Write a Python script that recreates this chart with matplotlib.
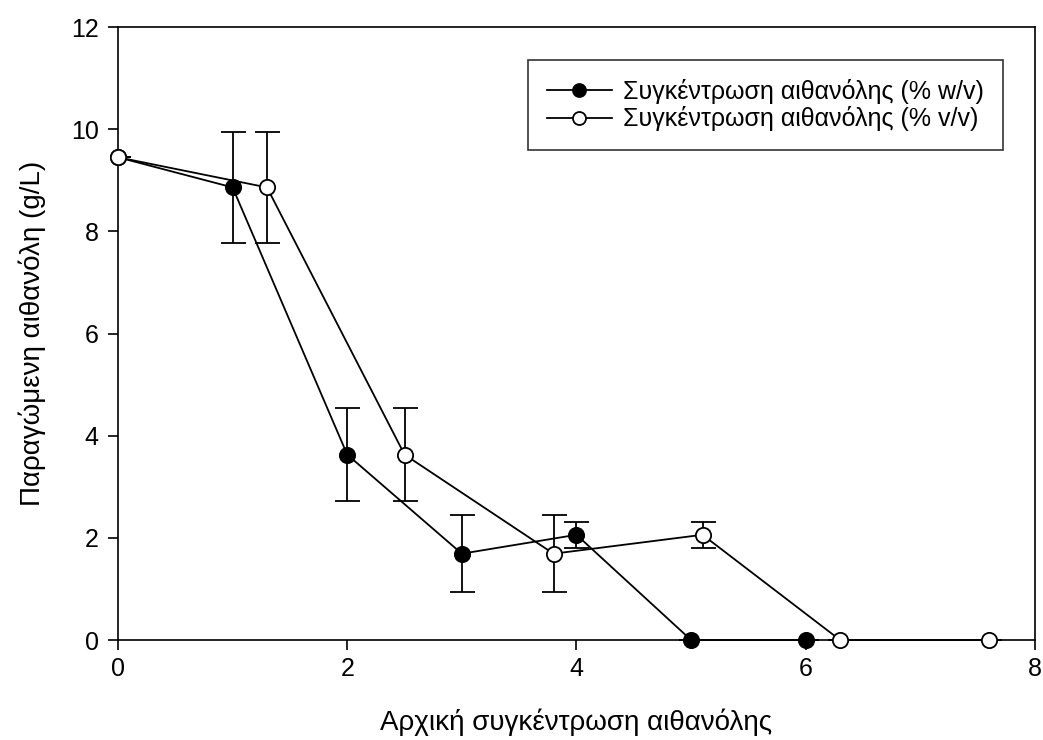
import matplotlib.pyplot as plt

plt.rcParams["font.family"] = ["Liberation Sans", "DejaVu Sans"]

# data
x_wv = [0, 1, 2, 3, 4, 5, 6]
x_vv = [0, 1.3, 2.5, 3.8, 5.1, 6.3, 7.6]
ethanol = [9.45, 8.86, 3.63, 1.69, 2.06, 0, 0]
err = [0, 1.08, 0.91, 0.75, 0.25, 0, 0]

label_wv = "Συγκέντρωση αιθανόλης (% w/v)"
label_vv = "Συγκέντρωση αιθανόλης (% v/v)"

fig = plt.figure(figsize=(10.43, 7.4), dpi=100)
ax = fig.add_axes([0.1131, 0.1351, 0.8792, 0.8284])

common = dict(yerr=err, color="black", linewidth=1.3, elinewidth=1.3,
              capsize=9, capthick=1.3, marker="o", markersize=11,
              markeredgecolor="black", markeredgewidth=1.3)
eb1 = ax.errorbar(x_wv, ethanol, markerfacecolor="black", label=label_wv, zorder=3, **common)
eb2 = ax.errorbar(x_vv, ethanol, markerfacecolor="white", label=label_vv, zorder=3, **common)
for eb in (eb1, eb2):
    eb[0].set_clip_on(False)

ax.set_xlim(0, 8)
ax.set_ylim(0, 12)
ax.set_xticks([0, 2, 4, 6, 8])
ax.set_yticks([0, 2, 4, 6, 8, 10, 12])
ax.tick_params(direction="out", length=7, width=1.2, labelsize=18)
ax.tick_params(axis="y", pad=7)
ax.tick_params(axis="x", pad=5)
for s in ax.spines.values():
    s.set_linewidth(1.2)

ax.set_xlabel("Αρχική συγκέντρωση αιθανόλης", fontsize=20, labelpad=20)
ax.set_ylabel("Παραγώμενη αιθανόλη (g/L)", fontsize=20, labelpad=18)

handles, labels = ax.get_legend_handles_labels()
handles = [h[0] for h in handles]
leg = ax.legend(handles, labels, loc="upper right", bbox_to_anchor=(0.965, 0.946),
                borderaxespad=0, fontsize=18, frameon=True, fancybox=False,
                edgecolor="black", handlelength=2.6, handletextpad=0.45,
                borderpad=0.75, labelspacing=0.1, markerscale=0.85)
leg.get_frame().set_linewidth(1.2)

fig.savefig("out.png", dpi=100)
